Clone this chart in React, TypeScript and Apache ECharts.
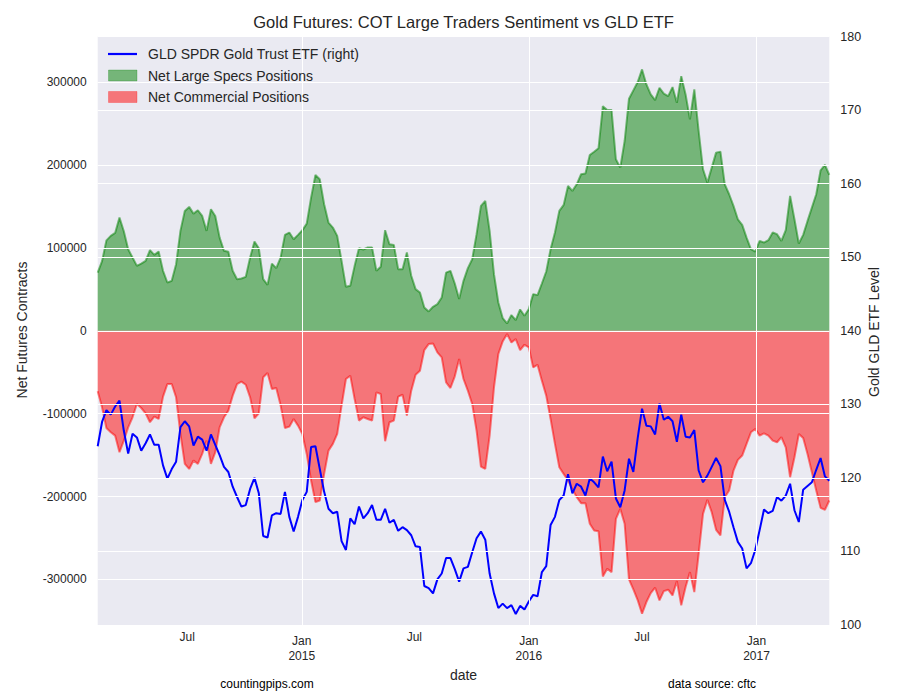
import React, { useEffect, useRef } from "react";
import * as echarts from "echarts";

// Weekly COT reports, first report date
const FIRST_REPORT = { year: 2014, month: 1, day: 7 };

const netLargeSpecs = [
  70200, 84000, 109000, 114500, 118000, 136500, 120000, 98400, 88300, 78300,
  81000, 84300, 97200, 91600, 95500, 72300, 58200, 60200, 80300, 120500,
  144600, 149400, 141300, 145400, 138500, 120500, 146600, 138500, 112400, 96400,
  95200, 72300, 62200, 63000, 65000, 88300, 107600, 99600, 62200, 55400,
  81000, 75500, 88300, 115700, 118500, 110400, 115700, 121300, 129300, 160600,
  188000, 182700, 152600, 130500, 124500, 114500, 84300, 53000, 54200, 78300,
  99600, 98000, 100400, 100400, 72300, 77100, 121300, 104400, 103600, 74300,
  74300, 94400, 66300, 50200, 46200, 28100, 23300, 28900, 32100, 40200,
  70200, 72300, 57000, 38200, 60200, 75500, 86300, 116500, 150600, 156600,
  120500, 68300, 34100, 15300, 8800, 18900, 12900, 25700, 18100, 26100,
  44200, 43000, 57000, 71500, 98400, 118500, 144600, 151800, 174700, 168700,
  176700, 188800, 189600, 212000, 216000, 220100, 271000, 266300, 266300, 206800,
  196800, 228900, 280000, 290000, 300000, 315300, 297200, 285100, 278300, 293200,
  286000, 283100, 294000, 275100, 307200, 285100, 255000, 291200, 241000, 194800,
  178700, 196800, 214900, 216000, 176700, 164700, 150600, 134500, 127700, 112400,
  98400, 95600, 108400, 106400, 109200, 118500, 116500, 108400, 121300, 162700,
  134500, 105200, 115700, 132500, 148600, 164700, 193600, 200000, 188000,
];

const netCommercial = [
  -73100, -92400, -117300, -122500, -126500, -146600, -132500, -116500, -104400, -88400,
  -93200, -99600, -110400, -103600, -106400, -79500, -64300, -64300, -80300, -124500,
  -160600, -166700, -156600, -160600, -148600, -132500, -160600, -146600, -116500, -104400,
  -96400, -78300, -64300, -61400, -65100, -80300, -105600, -99600, -56200, -51000,
  -70300, -69100, -90000, -117300, -115700, -106400, -114500, -124500, -148600, -180700,
  -206800, -204800, -172700, -144600, -136500, -124500, -90400, -58200, -54200, -82300,
  -108400, -104400, -106400, -108400, -74300, -76300, -133300, -110400, -108400, -79500,
  -77100, -102400, -72300, -53000, -48200, -23300, -16100, -15300, -26100, -32100,
  -62200, -69100, -55000, -34100, -58200, -72300, -88400, -120500, -163900, -166700,
  -126500, -68300, -28100, -12900, -4000, -14100, -10000, -23300, -16900, -20100,
  -44200, -41000, -60200, -78300, -106400, -136500, -164700, -172700, -180700, -190800,
  -200800, -208000, -208000, -232900, -241000, -241800, -296400, -287100, -291200, -226900,
  -214900, -232900, -300000, -312000, -325000, -341400, -327300, -316500, -310000, -325300,
  -314100, -312400, -319300, -302000, -331300, -309200, -291200, -315300, -269100, -220900,
  -204000, -218900, -240200, -247000, -200800, -192800, -168700, -155800, -150600, -136500,
  -122500, -118500, -126500, -123700, -126500, -132500, -134500, -128500, -140600, -176700,
  -152600, -124500, -129300, -148600, -170700, -192800, -213700, -216100, -204800,
];

const gldEtf = [
  124.3, 127.6, 129.2, 128.6, 129.7, 130.5, 126.4, 123.3, 126.0, 125.5,
  123.7, 124.7, 125.9, 124.5, 124.5, 121.7, 119.9, 121.2, 122.2, 126.9,
  127.7, 127.0, 124.4, 125.6, 125.2, 123.7, 125.9, 124.5, 123.1, 121.5,
  120.8, 118.8, 117.4, 116.1, 116.3, 118.5, 120.0, 117.9, 112.1, 111.9,
  114.9, 115.2, 115.1, 118.1, 114.7, 112.7, 114.7, 117.0, 118.1, 124.2,
  124.3, 121.2, 118.1, 115.8, 115.2, 115.4, 111.4, 110.2, 114.5, 113.7,
  116.1, 114.5, 115.2, 116.3, 114.3, 114.3, 115.8, 113.9, 114.3, 112.8,
  113.3, 112.9, 112.2, 110.7, 110.6, 105.3, 105.0, 104.3, 106.2, 107.0,
  109.1, 109.1, 107.6, 105.9, 107.7, 107.9, 109.9, 111.8, 112.7, 111.6,
  107.0, 104.3, 102.3, 102.9, 102.3, 102.7, 101.5, 102.6, 102.1, 103.2,
  104.1, 103.9, 107.2, 108.0, 113.6, 114.7, 117.0, 117.6, 120.5, 117.9,
  119.2, 118.8, 117.6, 119.9, 119.4, 118.7, 122.9, 120.9, 122.2, 117.2,
  116.0, 118.3, 122.6, 120.8, 125.4, 129.4, 127.1, 127.0, 125.9, 130.1,
  127.9, 128.3, 127.7, 124.9, 128.6, 125.6, 125.5, 126.5, 121.0, 119.4,
  120.3, 121.5, 122.7, 121.6, 117.0, 115.4, 113.3, 111.3, 110.4, 107.7,
  108.4, 110.2, 112.9, 115.7, 115.2, 115.5, 117.4, 116.9, 117.6, 119.2,
  115.6, 114.0, 118.4, 118.9, 119.4, 121.1, 122.7, 120.2, 119.6,
];

const leftTicks = [-300000, -200000, -100000, 0, 100000, 200000, 300000];
const rightTicks = [100, 110, 120, 130, 140, 150, 160, 170, 180];
const xLabelDates = [
  [2014, 6], [2015, 0], [2015, 6], [2016, 0], [2016, 6], [2017, 0],
];
const yearStarts = [2015, 2016, 2017];

const FONT = "Liberation Sans, Arial, Helvetica, sans-serif";
const TXT = "#262626";

export default function App() {
  const ref = useRef<HTMLDivElement>(null);

  useEffect(() => {
    if (!ref.current) return;
    const chart = echarts.init(ref.current, undefined, { renderer: "svg" });

    const dates = netLargeSpecs.map((_, i) =>
      new Date(FIRST_REPORT.year, FIRST_REPORT.month, FIRST_REPORT.day + 7 * i).getTime()
    );
    const specsData = dates.map((d, i) => [d, netLargeSpecs[i]]);
    const commData = dates.map((d, i) => [d, netCommercial[i]]);
    const gldData = dates.map((d, i) => [d, gldEtf[i]]);
    const xLabelValues = xLabelDates.map(([y, m]) => new Date(y, m, 1).getTime());
    const janValues = yearStarts.map((y) => new Date(y, 0, 1).getTime());

    const whiteLine = { color: "#ffffff", width: 1, type: "solid" as const };

    chart.setOption({
      animation: false,
      backgroundColor: "#ffffff",
      textStyle: { fontFamily: FONT },
      grid: {
        left: 97.7,
        right: 70.7,
        top: 36.5,
        bottom: 72,
        show: true,
        backgroundColor: "#EAEAF2",
        borderWidth: 0,
      },
      xAxis: {
        type: "value",
        min: dates[0],
        max: dates[dates.length - 1],
        axisLine: { show: false },
        axisTick: { show: false },
        splitLine: { show: false },
        axisLabel: {
          customValues: xLabelValues,
          margin: 8.5,
          color: TXT,
          fontFamily: FONT,
          fontSize: 12,
          formatter: (value: number) => {
            const d = new Date(value);
            return d.getMonth() === 0
              ? `{jan|Jan}\n{jan|${d.getFullYear()}}`
              : "{jul|Jul}";
          },
          rich: {
            jan: { fontSize: 12, lineHeight: 15, color: TXT, fontFamily: FONT },
            jul: { fontSize: 12, lineHeight: 7, color: TXT, fontFamily: FONT },
          },
        },
      },
      yAxis: [
        {
          type: "value",
          min: -355000,
          max: 355000,
          axisLine: { show: false },
          axisTick: { show: false },
          splitLine: { show: false },
          axisLabel: {
            customValues: leftTicks,
            formatter: (v: number) => String(v),
            color: TXT,
            fontSize: 12,
            fontFamily: FONT,
            margin: 11,
          },
        },
        {
          type: "value",
          min: 100,
          max: 180,
          interval: 10,
          position: "right",
          axisLine: { show: false },
          axisTick: { show: false },
          splitLine: { show: false },
          axisLabel: {
            color: TXT,
            fontSize: 12.5,
            fontFamily: FONT,
            margin: 11,
          },
        },
      ],
      series: [
        {
          name: "left-grid",
          type: "line",
          yAxisIndex: 0,
          z: 1,
          silent: true,
          data: [[dates[0], 0]],
          showSymbol: false,
          lineStyle: { opacity: 0 },
          markLine: {
            silent: true,
            symbol: ["none", "none"],
            label: { show: false },
            lineStyle: whiteLine,
            emphasis: { disabled: true },
            data: [
              ...leftTicks.map((v) => ({ yAxis: v })),
              ...janValues.map((v) => ({ xAxis: v })),
            ],
          },
        },
        {
          name: "Net Large Specs Positions",
          type: "line",
          yAxisIndex: 0,
          z: 2,
          data: specsData,
          showSymbol: false,
          symbol: "none",
          lineStyle: { color: "rgba(0,128,0,0.5)", width: 2 },
          itemStyle: { color: "rgba(0,128,0,0.5)" },
          areaStyle: { color: "rgba(0,128,0,0.5)", opacity: 1 },
        },
        {
          name: "Net Commercial Positions",
          type: "line",
          yAxisIndex: 0,
          z: 2,
          data: commData,
          showSymbol: false,
          symbol: "none",
          lineStyle: { color: "rgba(255,0,0,0.5)", width: 2 },
          itemStyle: { color: "rgba(255,0,0,0.5)" },
          areaStyle: { color: "rgba(255,0,0,0.5)", opacity: 1 },
        },
        {
          name: "right-grid",
          type: "line",
          yAxisIndex: 1,
          z: 3,
          silent: true,
          data: [[dates[0], 140]],
          showSymbol: false,
          lineStyle: { opacity: 0 },
          markLine: {
            silent: true,
            symbol: ["none", "none"],
            label: { show: false },
            lineStyle: whiteLine,
            emphasis: { disabled: true },
            data: rightTicks.map((v) => ({ yAxis: v })),
          },
        },
        {
          name: "GLD SPDR Gold Trust ETF (right)",
          type: "line",
          yAxisIndex: 1,
          z: 4,
          data: gldData,
          showSymbol: false,
          symbol: "none",
          lineStyle: { color: "#0000ff", width: 2 },
          itemStyle: { color: "#0000ff" },
        },
      ],
      graphic: [
        {
          type: "text",
          x: 463.5,
          y: 22,
          z: 100,
          style: {
            text: "Gold Futures: COT Large Traders Sentiment vs GLD ETF",
            fontSize: 16.5,
            fontFamily: FONT,
            fill: TXT,
            align: "center",
            verticalAlign: "middle",
          },
        },
        {
          type: "line",
          z: 100,
          shape: { x1: 108, y1: 54, x2: 137, y2: 54 },
          style: { stroke: "#0000ff", lineWidth: 2.2 },
        },
        {
          type: "text",
          x: 148,
          y: 54,
          z: 100,
          style: {
            text: "GLD SPDR Gold Trust ETF (right)",
            fontSize: 14,
            fontFamily: FONT,
            fill: TXT,
            verticalAlign: "middle",
          },
        },
        {
          type: "rect",
          z: 100,
          shape: { x: 108.5, y: 70, width: 28.5, height: 11 },
          style: { fill: "rgba(0,128,0,0.5)", stroke: "rgba(0,128,0,0.25)", lineWidth: 1 },
        },
        {
          type: "text",
          x: 148,
          y: 75.5,
          z: 100,
          style: {
            text: "Net Large Specs Positions",
            fontSize: 14,
            fontFamily: FONT,
            fill: TXT,
            verticalAlign: "middle",
          },
        },
        {
          type: "rect",
          z: 100,
          shape: { x: 108.5, y: 91.5, width: 28.5, height: 11 },
          style: { fill: "rgba(255,0,0,0.5)", stroke: "rgba(255,0,0,0.25)", lineWidth: 1 },
        },
        {
          type: "text",
          x: 148,
          y: 97,
          z: 100,
          style: {
            text: "Net Commercial Positions",
            fontSize: 14,
            fontFamily: FONT,
            fill: TXT,
            verticalAlign: "middle",
          },
        },
        {
          type: "text",
          x: 22,
          y: 330,
          rotation: Math.PI / 2,
          z: 100,
          style: {
            text: "Net Futures Contracts",
            fontSize: 14,
            fontFamily: FONT,
            fill: TXT,
            align: "center",
            verticalAlign: "middle",
          },
        },
        {
          type: "text",
          x: 874,
          y: 332,
          rotation: Math.PI / 2,
          z: 100,
          style: {
            text: "Gold GLD ETF Level",
            fontSize: 14,
            fontFamily: FONT,
            fill: TXT,
            align: "center",
            verticalAlign: "middle",
          },
        },
        {
          type: "text",
          x: 463.5,
          y: 675,
          z: 100,
          style: {
            text: "date",
            fontSize: 14,
            fontFamily: FONT,
            fill: TXT,
            align: "center",
            verticalAlign: "middle",
          },
        },
        {
          type: "text",
          x: 267,
          y: 684,
          z: 100,
          style: {
            text: "countingpips.com",
            fontSize: 12,
            fontFamily: FONT,
            fill: "#000000",
            align: "center",
            verticalAlign: "middle",
          },
        },
        {
          type: "text",
          x: 712,
          y: 684,
          z: 100,
          style: {
            text: "data source: cftc",
            fontSize: 12,
            fontFamily: FONT,
            fill: "#000000",
            align: "center",
            verticalAlign: "middle",
          },
        },
      ],
    });

    return () => chart.dispose();
  }, []);

  return (
    <div
      ref={ref}
      style={{ position: "fixed", left: 0, top: 0, width: 900, height: 697 }}
    />
  );
}
